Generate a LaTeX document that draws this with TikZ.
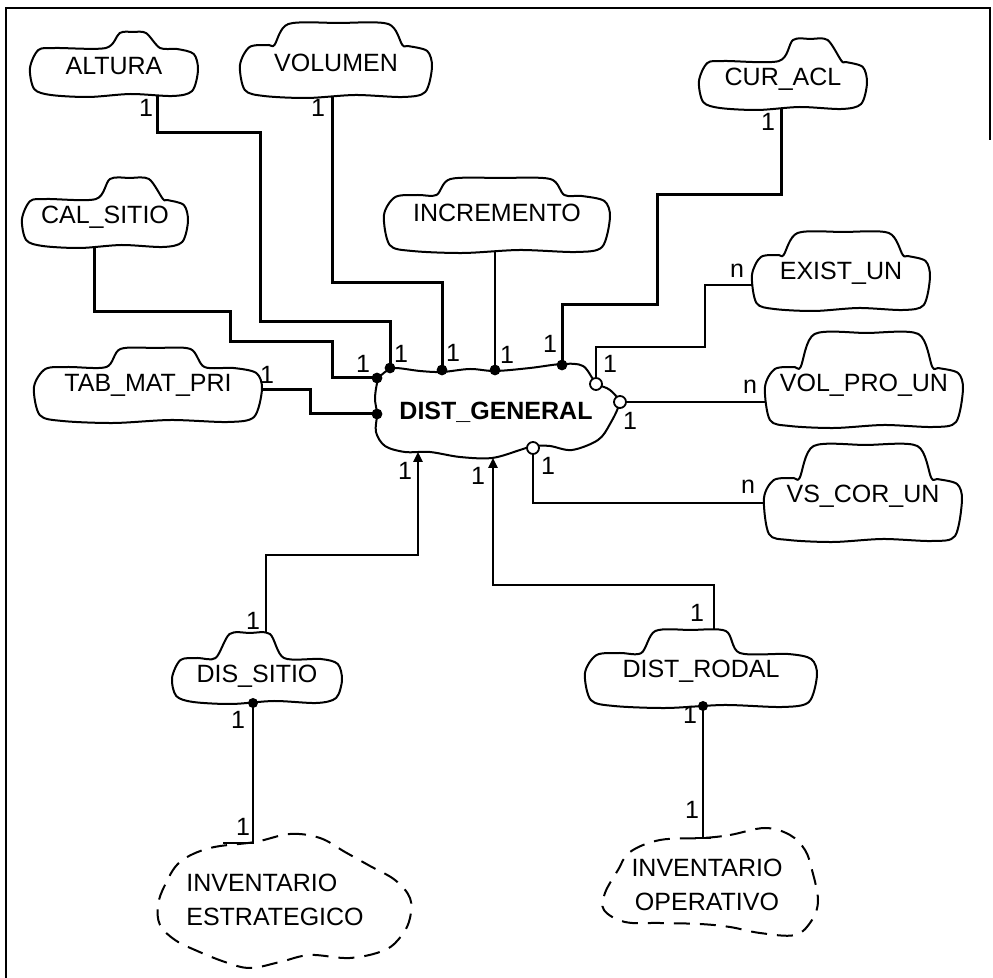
\documentclass[tikz,border=0pt]{standalone}
\usepackage{fontspec}
\setmainfont{Liberation Sans}
\usetikzlibrary{calc,arrows.meta}

\newcommand{\entfont}{\fontsize{12.5}{15}\selectfont}

% Entity cloud: #1 name, #2/#3 text centre, #4 half width,
% #5/#6 start/end of the top hump (fractions of the half width),
% #7 hump height above the text centre, #8 depth of the lower edge, #9 label
\newcommand{\entity}[9]{%
  \node[ent] (#1) at (#2,#3) {#9};
  \begin{scope}[shift={(#2,#3)}]
    \pgfmathsetmacro\cloudhw{#4}
    \pgfmathsetmacro\cloudmid{(#5+#6)/2*#4}
    \draw[cloudline] plot[smooth cycle, tension=0.5] coordinates {
      ({-\cloudhw},2) ({-0.9*\cloudhw},-16) ({-0.7*\cloudhw},-18)
      ({#5*\cloudhw-4},-18) ({#5*\cloudhw+10},{1-#7}) (\cloudmid,{-#7})
      ({#6*\cloudhw-10},{1-#7}) ({#6*\cloudhw+4},-18) ({0.75*\cloudhw},-17)
      ({0.95*\cloudhw},-12) ({\cloudhw},4) ({0.93*\cloudhw},{#8-5})
      ({0.7*\cloudhw},{#8}) ({0.2*\cloudhw},{#8-2}) ({-0.3*\cloudhw},{#8+1})
      ({-0.75*\cloudhw},{#8-1}) ({-0.95*\cloudhw},{#8-7})};
  \end{scope}}

\tikzset{
  ent/.style={font=\entfont, inner sep=0pt},
  card/.style={font=\entfont, inner sep=0pt},
  cloudline/.style={line width=1pt, line join=round},
  dashcloud/.style={line width=1pt, dash pattern=on 8pt off 5pt},
  heavy/.style={line width=1.5pt},
  midline/.style={line width=1.2pt},
  light/.style={line width=1pt},
  solidend/.style={fill=black},
  openend/.style={fill=white, draw=black, line width=0.9pt},
  uparrow/.style={-{Triangle[width=4.5pt,length=5pt]}},
}

\begin{document}
\begin{tikzpicture}[x=0.5pt, y=-0.5pt]
\useasboundingbox (0,0) rectangle (993,978);

% frame
\draw[line width=1pt] (990,140) -- (990,8) -- (6,8) -- (6,978);

% entities
\entity{altura}{114}{66}{84}{-0.05}{0.5}{34}{30}{ALTURA}
\entity{volumen}{336}{63}{96}{-0.6}{0.65}{40}{34}{VOLUMEN}
\entity{curacl}{783}{79}{84}{0}{0.65}{40}{30}{CUR\_ACL}
\entity{calsitio}{105}{217}{83}{-0.06}{0.65}{39}{30}{CAL\_SITIO}
\entity{incremento}{497}{213}{113}{-0.5}{0.56}{35}{39}{INCREMENTO}
\entity{existun}{841}{273}{89}{-0.6}{0.65}{41}{37}{EXIST\_UN}
\entity{volproun}{864}{385}{99}{-0.6}{0.65}{52}{42}{VOL\_PRO\_UN}
\entity{vscorun}{863}{496}{99}{-0.6}{0.65}{51}{45}{VS\_COR\_UN}
\entity{tabmatpri}{148}{385}{114}{-0.33}{0.46}{37}{37}{TAB\_MAT\_PRI}
\entity{dissitio}{257}{676}{85}{-0.44}{0.27}{43}{27}{DIS\_SITIO}
\entity{distrodal}{701}{671}{116}{-0.48}{0.3}{41}{36}{DIST\_RODAL}

% central entity
\node[ent, font=\entfont\bfseries] (dg) at (496,412) {DIST\_GENERAL};
\begin{scope}[shift={(dg.center)}]
  \draw[cloudline] plot[smooth cycle, tension=0.55] coordinates {
    (-118,-32) (-121,-14) (-119,2) (-120,20) (-111,34) (-91,40) (-66,40)
    (-36,45) (-4,46) (24,38) (37,34) (54,34) (76,38) (102,28) (114,12)
    (123,-9) (114,-22) (100,-29) (87,-46) (66,-48) (34,-44) (-1,-41)
    (-26,-43) (-54,-40) (-76,-41) (-101,-44) (-111,-40)};
\end{scope}

% inventories (dashed clouds)
\node[ent, align=left] (estr) at (275,900) {INVENTARIO\\[2pt]ESTRATEGICO};
\begin{scope}[shift={(estr.center)}]
  \draw[dashcloud] plot[smooth cycle, tension=0.6] coordinates {
    (-20,-58) (15,-66) (45,-62) (70,-48) (95,-34) (120,-20) (135,-2)
    (135,18) (127,35) (110,50) (75,58) (35,55) (5,62) (-25,68) (-50,62)
    (-80,50) (-100,40) (-115,25) (-117,5) (-110,-15) (-95,-38) (-65,-52)};
\end{scope}
\node[ent, align=center] (oper) at (707,885) {INVENTARIO\\[2pt]OPERATIVO};
\begin{scope}[shift={(oper.center)}]
  \draw[dashcloud] plot[smooth cycle, tension=0.6] coordinates {
    (-4,-47) (23,-50) (58,-57) (83,-50) (98,-35) (105,-15) (111,15)
    (105,35) (88,50) (53,48) (23,42) (-7,39) (-47,38) (-82,37) (-103,25)
    (-102,8) (-89,-15) (-77,-33) (-47,-45)};
\end{scope}

% relationships into DIST_GENERAL
\draw[heavy] ($(calsitio)+(-11,30)$) |- (230,312) |- (332,342) |- ($(dg)+(-119,-34)$);
\draw[heavy] ($(altura)+(43,30)$) |- (260,133) |- (390,322) -- ($(dg)+(-106,-44)$);
\draw[heavy] ($(volumen)+(-4,34)$) |- (442,283) -- ($(dg)+(-54,-42)$);
\draw[light] ($(incremento)+(-2,39)$) -- ($(dg)+(-1,-42)$);
\draw[heavy] ($(curacl)+(-2,30)$) |- (657,195) |- (562,305) -- ($(dg)+(66,-47)$);
\draw[heavy] ($(tabmatpri)+(114,5)$) -| (310,414) -- ($(dg)+(-119,2)$);
\draw[midline] ($(existun)+(-88,12)$) -| (705,347) -| ($(dg)+(100,-34)$);
\draw[light] ($(volproun)+(-99,17)$) -- ($(dg)+(130,-10)$);
\draw[light] ($(vscorun)+(-98,7)$) -| ($(dg)+(37,42)$);
\draw[midline, uparrow] ($(dissitio)+(9,-43)$) |- (418,555) -- ($(dg)+(-78,40)$);
\draw[midline, uparrow] ($(distrodal)+(13,-41)$) |- (493,585) -- ($(dg)+(-3,46)$);

% links to the inventories
\draw[midline] ($(dissitio)+(-4,27)$) -- ($(estr)+(-22,-57)$) -- ++(-30,0);
\draw[midline] ($(distrodal)+(2,35)$) -- ($(oper)+(-4,-47)$) ++(-8,0) -- ++(16,0);

% relationship ends
\fill[solidend] ($(dg)+(-119,-34)$) circle[radius=2.7pt];
\fill[solidend] ($(dg)+(-106,-44)$) circle[radius=2.7pt];
\fill[solidend] ($(dg)+(-54,-42)$) circle[radius=2.7pt];
\fill[solidend] ($(dg)+(-1,-42)$) circle[radius=2.7pt];
\fill[solidend] ($(dg)+(66,-47)$) circle[radius=2.7pt];
\fill[solidend] ($(dg)+(-119,2)$) circle[radius=2.7pt];
\fill[solidend] ($(dissitio)+(-4,27)$) circle[radius=2.5pt];
\fill[solidend] ($(distrodal)+(2,35)$) circle[radius=2.5pt];
\path[openend] ($(dg)+(100,-28)$) circle[radius=3pt];
\path[openend] ($(dg)+(124,-10)$) circle[radius=3pt];
\path[openend] ($(dg)+(37,36)$) circle[radius=3pt];

% cardinalities
\node[card] (c1) at (146,108) {1};
\node[card] (c2) at (318,108) {1};
\node[card] (c3) at (768,122) {1};
\node[card] (c4) at (363,364) {1};
\node[card] (c5) at (401,354) {1};
\node[card] (c6) at (453,353) {1};
\node[card] (c7) at (507,355) {1};
\node[card] (c8) at (550,344) {1};
\node[card] (c9) at (267,375) {1};
\node[card] (c10) at (610,364) {1};
\node[card] (c11) at (737,271) {n};
\node[card] (c12) at (630,421) {1};
\node[card] (c13) at (750,387) {n};
\node[card] (c14) at (548,466) {1};
\node[card] (c15) at (748,487) {n};
\node[card] (c16) at (405,471) {1};
\node[card] (c17) at (478,476) {1};
\node[card] (c18) at (253,621) {1};
\node[card] (c19) at (238,720) {1};
\node[card] (c20) at (243,827) {1};
\node[card] (c21) at (697,613) {1};
\node[card] (c22) at (690,715) {1};
\node[card] (c23) at (692,810) {1};
\end{tikzpicture}
\end{document}
